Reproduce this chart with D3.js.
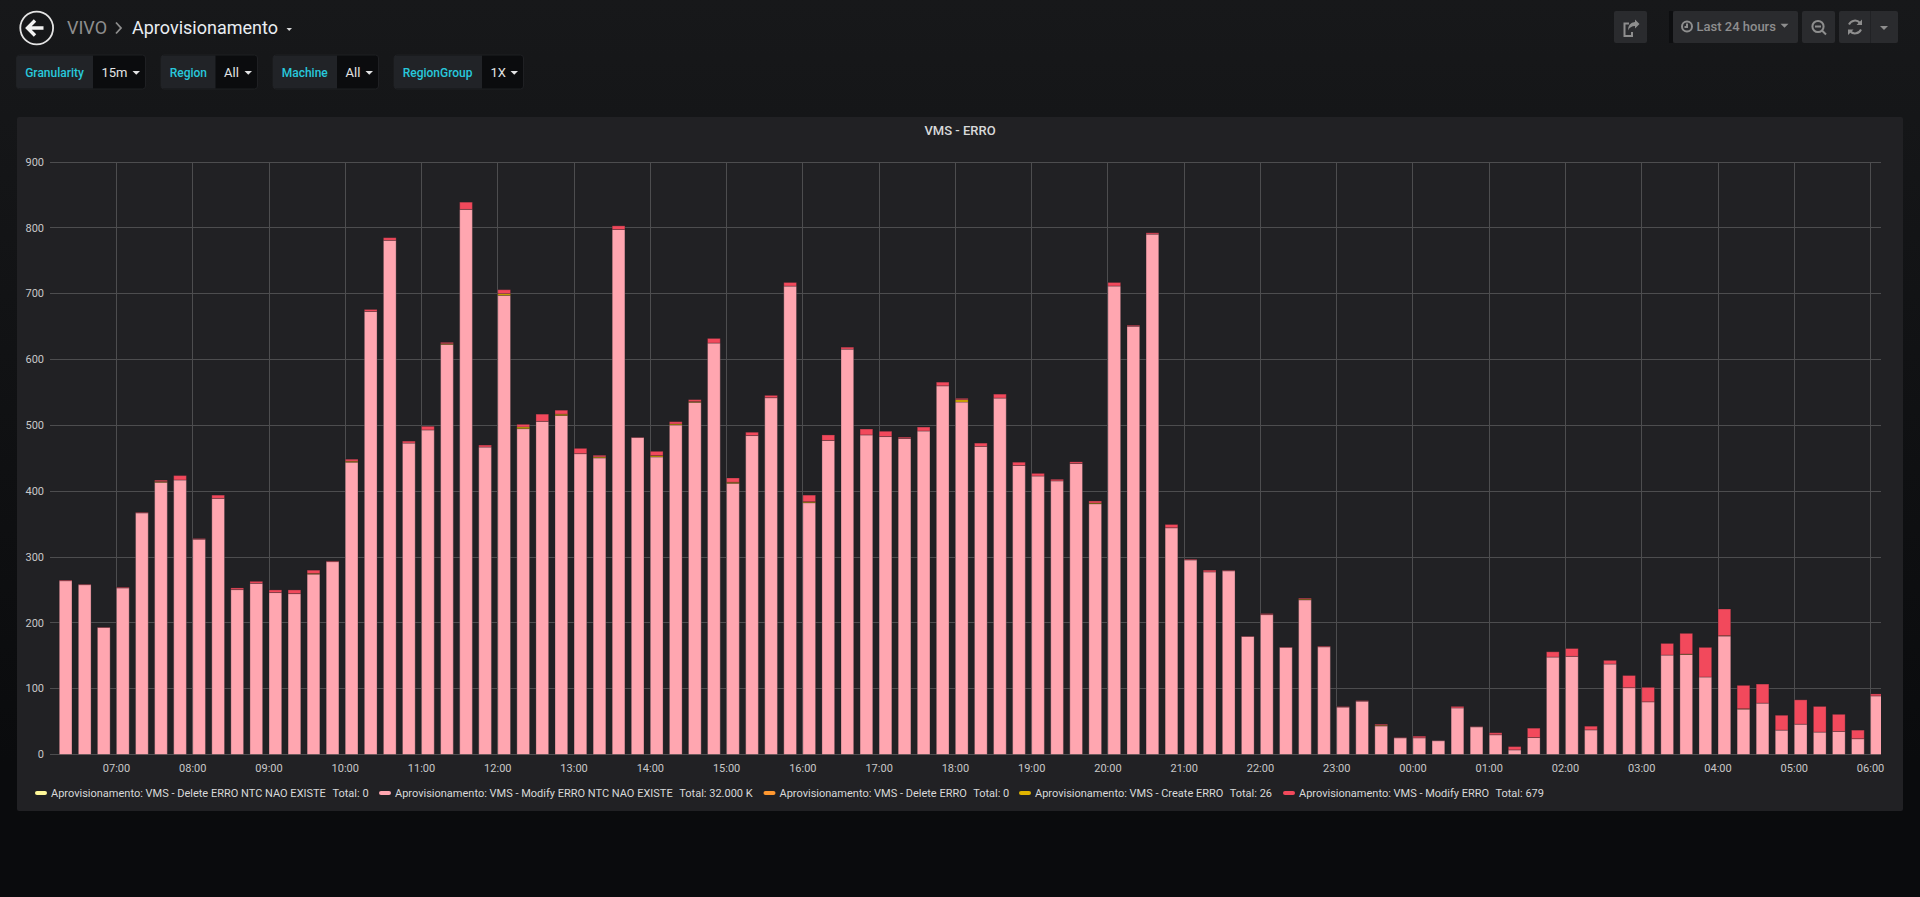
<!DOCTYPE html>
<html lang="en">
<head>
  <meta charset="UTF-8" />
  <title>VIVO - Aprovisionamento</title>
  <script src="https://d3js.org/d3.v7.min.js"></script>
  <style>
    html, body {
      margin: 0;
      height: 897px;
      overflow: hidden;
      font-family: Roboto, sans-serif;
      background: linear-gradient(#17181a, #0a0b0d 85%);
    }
    #page { display: block; position: absolute; left: 0; top: 0; }
    .crumb-parent { font-size: 18px; fill: #8e8e8e; }
    .crumb-title { font-size: 18px; fill: #e9edf2; }
    .filter-label { font-size: 12px; font-weight: 500; fill: #28c8dc; }
    .filter-value { font-size: 13px; fill: #e3e4e5; }
    .panel-title { font-size: 13px; font-weight: 500; fill: #d8d9da; text-anchor: middle; }
    .axis text { font-size: 11px; fill: #c8c8c8; font-family: Roboto, sans-serif; }
    .axis .domain { display: none; }
    .axis line { stroke: #4d4d4f; stroke-width: 1; shape-rendering: crispEdges; }
    .legend-text { font-size: 11px; fill: #d8d9da; }
    .btn-text { font-size: 13px; font-weight: 500; fill: #8e8e8e; }
    .icon { fill: none; stroke: #8e8e8e; stroke-width: 2; }
  </style>
</head>
<body>
<svg id="page" width="1920" height="897"></svg>
<script>
// one entry per 15 min bucket, last 24 hours
const barTimes = [
  "06:15","06:30","06:45","07:00","07:15","07:30","07:45","08:00","08:15","08:30","08:45","09:00",
  "09:15","09:30","09:45","10:00","10:15","10:30","10:45","11:00","11:15","11:30","11:45","12:00",
  "12:15","12:30","12:45","13:00","13:15","13:30","13:45","14:00","14:15","14:30","14:45","15:00",
  "15:15","15:30","15:45","16:00","16:15","16:30","16:45","17:00","17:15","17:30","17:45","18:00",
  "18:15","18:30","18:45","19:00","19:15","19:30","19:45","20:00","20:15","20:30","20:45","21:00",
  "21:15","21:30","21:45","22:00","22:15","22:30","22:45","23:00","23:15","23:30","23:45","00:00",
  "00:15","00:30","00:45","01:00","01:15","01:30","01:45","02:00","02:15","02:30","02:45","03:00",
  "03:15","03:30","03:45","04:00","04:15","04:30","04:45","05:00","05:15","05:30","05:45","06:00"
];
const modifyNtcValues = [
  264,258,193,253,367,413.5,417,327,389,250.5,260,246,
  244.4,274,293,444,673,781,473,493,623,828,467,697.5,
  495,506,515,457,450.5,797.5,481.5,452,500.5,535,625,412,
  484.5,542,711.5,382.5,477,615.7,485.4,483,480,491.4,560,535.4,
  468,541.4,439,423,415.6,442,381,711.6,650.5,790.4,344.4,295.5,
  277.3,279,179.3,212.5,162.8,235,163.6,72,81,43.4,25.3,25.3,
  21,70.7,42,30,7,25.8,148,149,37.4,137.4,101.5,80,
  151,152,117.7,180,69,78,37,46,34,35,24,89
];
const createValues = [
  0,0,0,0,0,1,0,0,0,0,0,0,
  0,1,0,1.5,0,0,0,0,1,0,0,2.5,
  2.5,0,2,0,1.5,0,0,2,1.5,1,0,1.5,
  0,0,0,1.5,0,0,0,0,0,0,0,3.5,
  0,0,0,0,0,0,1,0,0,0,0,0,
  0,0,0,0,0,1,0,0,0,1,0,0,
  0,0,0,0,0,0,0,0,0,0,0,0,
  0,0.5,0,0.5,0.5,0,0,0,0,0,0,0
];
const modifyValues = [
  1,0.7,0.5,1,0.8,2.2,6.7,1,5,2.5,3,4,
  5.6,5,1,3,3,4,3,5.5,2,11,3,6,
  4,11,6,8,2.5,5.5,0.5,6.5,3.5,3,7,6.5,
  5,3.5,5.5,10,8.4,3,9,8,2,6,5.6,2,
  5,6,5,4,2.4,2.5,3,5.4,1.5,2,5,1,
  2.7,0.8,0.5,1.5,0.5,1.4,1,0.7,0.8,1.6,0.5,2.5,
  0.2,2.3,0.4,3,5,14.2,8,12,5.6,5.6,18.5,22,
  17.7,31.5,45,40.5,35.5,29,22.6,37,39,26,13,3
];
// these two had no errors in the period
const deleteNtcValues = [];
const deleteValues = [];

const seriesKeys = ["deleteNtc", "modifyNtc", "delete", "create", "modify"];
const seriesNames = [
  "Aprovisionamento: VMS - Delete ERRO NTC NAO EXISTE",
  "Aprovisionamento: VMS - Modify ERRO NTC NAO EXISTE",
  "Aprovisionamento: VMS - Delete ERRO",
  "Aprovisionamento: VMS - Create ERRO",
  "Aprovisionamento: VMS - Modify ERRO"
];
const seriesTotals = ["Total: 0", "Total: 32.000 K", "Total: 0", "Total: 26", "Total: 679"];
const seriesColors = ["#fff899", "#ffa6b0", "#ff9830", "#e0b400", "#f2495c"];
const yTicks = [0, 100, 200, 300, 400, 500, 600, 700, 800, 900];

const svg = d3.select("#page");
const plot = { left: 50, right: 1881, top: 162, bottom: 754.5 };

// ---- header ----
const header = svg.append("g");
header.append("circle").attr("cx", 36.7).attr("cy", 28).attr("r", 16.4)
  .attr("fill", "none").attr("stroke", "#e4e4e4").attr("stroke-width", 1.8);
header.append("path").attr("d", "M28.5 28 L43.5 28 M35 20.5 L27.5 28 L35 35.5")
  .attr("fill", "none").attr("stroke", "#f2f2f2").attr("stroke-width", 3.4);
header.append("text").attr("class", "crumb-parent").attr("x", 67).attr("y", 33.5).text("VIVO");
header.append("path").attr("d", "M116 22.5 L121 28 L116 33.5")
  .attr("fill", "none").attr("stroke", "#8e8e8e").attr("stroke-width", 1.8);
header.append("text").attr("class", "crumb-title").attr("x", 132).attr("y", 33.5).text("Aprovisionamento");
header.append("path").attr("d", "M286.5 28 L292 28 L289.2 31 Z").attr("fill", "#d8d9da");

// ---- template variables ----
const filterLabels = ["Granularity", "Region", "Machine", "RegionGroup"];
const filterValues = ["15m", "All", "All", "1X"];
const filterEdges = [[16.5, 93, 145.5], [161, 215.5, 257.5], [273, 337, 378.5], [394, 482, 523.5]];

filterLabels.forEach((label, i) => {
  const [x0, x1, x2] = filterEdges[i];
  const g = svg.append("g");
  g.append("rect").attr("x", x0).attr("y", 55).attr("width", x2 - x0).attr("height", 34).attr("rx", 3)
    .attr("fill", "#0b0c0e").attr("stroke", "#1f2023");
  g.append("path").attr("d", `M${x1} 55.5 H${x0 + 3} Q${x0} 55.5 ${x0} 58.5 V85.5 Q${x0} 88.5 ${x0 + 3} 88.5 H${x1} Z`)
    .attr("fill", "#212327");
  g.append("text").attr("class", "filter-label").attr("x", x0 + 8.7).attr("y", 76.5).text(label);
  g.append("text").attr("class", "filter-value").attr("x", x1 + 8.5).attr("y", 77).text(filterValues[i]);
  g.append("path").attr("d", `M${x2 - 13} 71 h7.5 l-3.75 3.8 Z`).attr("fill", "#e3e4e5");
});

// ---- toolbar ----
const buttons = [[1614, 33], [1673, 125], [1802, 33], [1839, 59]];
buttons.forEach(([x, w]) => {
  svg.append("rect").attr("x", x).attr("y", 11).attr("width", w).attr("height", 32).attr("rx", 2)
    .attr("fill", "#2a2b2e");
});
svg.append("rect").attr("x", 1870).attr("y", 11).attr("width", 1).attr("height", 32).attr("fill", "#212225");
svg.append("rect").attr("x", 1669).attr("y", 11).attr("width", 4).attr("height", 32).attr("fill", "#0d0e10");

// share
svg.append("path").attr("class", "icon").attr("stroke-width", 1.8)
  .attr("d", "M1632 32 V36 H1624.5 V23.5 H1629");
svg.append("path").attr("d", "M1635 19.5 L1639.5 24 L1635 28.5 V26 Q1630 26 1628 30.5 Q1628 22.5 1635 22 Z")
  .attr("fill", "#8e8e8e");
// clock
svg.append("circle").attr("class", "icon").attr("stroke-width", 1.6).attr("cx", 1687).attr("cy", 26.5).attr("r", 5);
svg.append("path").attr("class", "icon").attr("stroke-width", 1.2).attr("d", "M1687 23.5 V27 H1684.5");
svg.append("text").attr("class", "btn-text").attr("x", 1696.5).attr("y", 31).text("Last 24 hours");
svg.append("path").attr("d", "M1780.5 23.8 h8 l-4 4 Z").attr("fill", "#8e8e8e");
// zoom out
svg.append("circle").attr("class", "icon").attr("stroke-width", 2).attr("cx", 1818).attr("cy", 26.5).attr("r", 5.6);
svg.append("path").attr("class", "icon").attr("stroke-width", 2).attr("d", "M1815 26.5 H1821 M1822 30.5 L1826 34.5");
// refresh
svg.append("path").attr("class", "icon").attr("stroke-width", 2.2)
  .attr("d", "M1849 24.5 A6.5 6.5 0 0 1 1860 23 M1861 29.5 A6.5 6.5 0 0 1 1850 31");
svg.append("path").attr("d", "M1862 19.5 V25 H1856.5 Z M1848 35 V29.5 H1853.5 Z").attr("fill", "#8e8e8e");
svg.append("path").attr("d", "M1880 26 h8 l-4 4 Z").attr("fill", "#8e8e8e");

// ---- panel ----
svg.append("rect").attr("x", 17).attr("y", 117).attr("width", 1886).attr("height", 694).attr("rx", 2)
  .attr("fill", "#212124");
svg.append("text").attr("class", "panel-title").attr("x", 960).attr("y", 134.5).text("VMS - ERRO");

const dayStart = Date.UTC(2018, 0, 1);
const parseBar = s => {
  const [h, m] = s.split(":").map(Number);
  const nextDay = h < 6 || (h === 6 && m === 0);
  return new Date(dayStart + ((nextDay ? 24 : 0) + h) * 3600000 + m * 60000);
};

const x = d3.scaleUtc()
  .domain([new Date(dayStart + 6 * 3600000 + 7.7 * 60000), new Date(dayStart + 30 * 3600000 + 8.2 * 60000)])
  .range([plot.left, plot.right]);
const y = d3.scaleLinear().domain([0, 900]).range([plot.bottom, plot.top]);

const hourTicks = d3.utcHour.range(x.domain()[0], x.domain()[1]);

svg.append("g").attr("class", "axis")
  .attr("transform", `translate(0,${plot.bottom})`)
  .call(d3.axisBottom(x).offset(0).tickValues(hourTicks).tickFormat(d3.utcFormat("%H:%M"))
    .tickSize(plot.top - plot.bottom).tickPadding(0))
  .call(g => g.selectAll("text").attr("y", 17).attr("dy", 0));

svg.append("g").attr("class", "axis")
  .attr("transform", `translate(${plot.left},0)`)
  .call(d3.axisLeft(y).offset(0).tickValues(yTicks).tickSize(plot.left - plot.right).tickPadding(0))
  .call(g => g.selectAll("text").attr("x", -6).attr("dy", "0.34em"));

const rows = barTimes.map((t, i) => ({
  time: parseBar(t),
  deleteNtc: deleteNtcValues[i] || 0,
  modifyNtc: modifyNtcValues[i],
  delete: deleteValues[i] || 0,
  create: createValues[i],
  modify: modifyValues[i]
}));
const stacked = d3.stack().keys(seriesKeys)(rows);

svg.append("clipPath").attr("id", "plot-clip").append("rect")
  .attr("x", plot.left).attr("y", plot.top - 1)
  .attr("width", plot.right - plot.left).attr("height", plot.bottom - plot.top + 1);

const barLayer = svg.append("g").attr("clip-path", "url(#plot-clip)");
const barMinutes = 10; // bars fill about 2/3 of the bucket

stacked.forEach((layer, s) => {
  const bars = layer.filter(d => d[1] > d[0]);
  // fill first, dim outline on top (flot style)
  barLayer.append("g").selectAll("rect")
    .data(bars)
    .join("rect")
    .attr("x", d => x(d.data.time))
    .attr("width", d => x(d3.utcMinute.offset(d.data.time, barMinutes)) - x(d.data.time))
    .attr("y", d => y(d[1]))
    .attr("height", d => y(d[0]) - y(d[1]))
    .attr("fill", seriesColors[s])
    .attr("stroke", "#212124")
    .attr("stroke-opacity", 0.3)
    .attr("stroke-width", 1);
});

// ---- legend ----
const legendSwatchX = [35, 379, 763.5, 1019, 1283];
const legendY = 793;
seriesNames.forEach((name, i) => {
  const lx = legendSwatchX[i];
  svg.append("rect").attr("x", lx).attr("y", legendY - 2).attr("width", 12).attr("height", 4).attr("rx", 2)
    .attr("fill", seriesColors[i]);
  const label = svg.append("text").attr("class", "legend-text").attr("x", lx + 16).attr("y", legendY + 4).text(name);
  label.append("tspan").attr("dx", 6.5).text(seriesTotals[i]);
});
</script>
</body>
</html>
